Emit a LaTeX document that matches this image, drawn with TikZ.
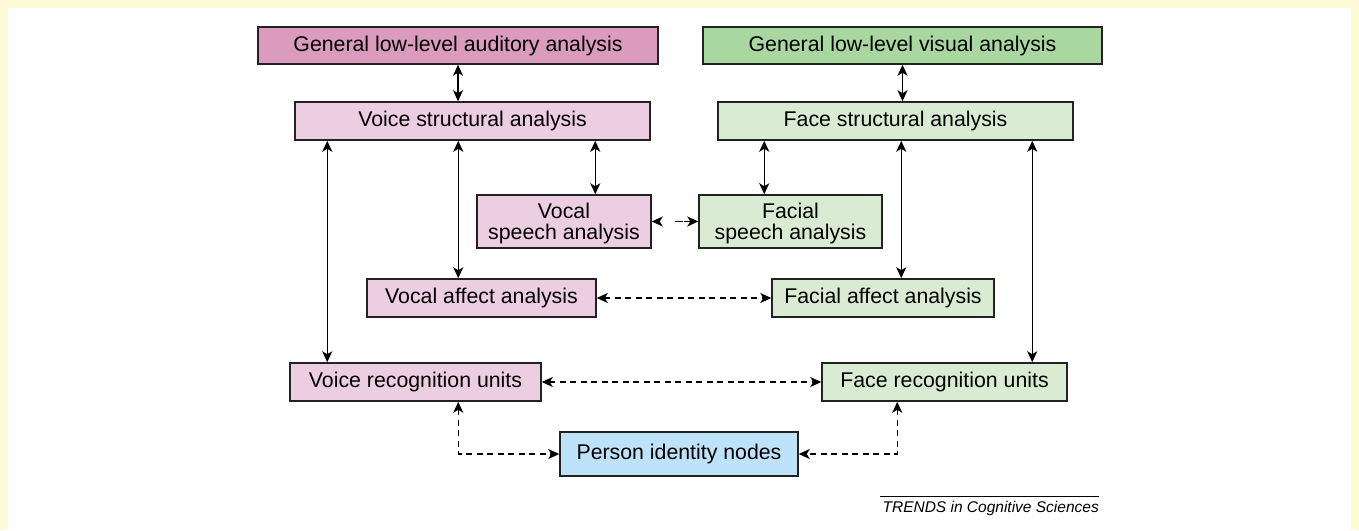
\documentclass[tikz,border=0pt]{standalone}
\usepackage{fontspec}
\setmainfont{Liberation Sans}
\usetikzlibrary{arrows.meta}
\definecolor{bgyellow}{HTML}{FFFAD6}
\definecolor{audark}{HTML}{DA9BBE}
\definecolor{aulight}{HTML}{EDCDE1}
\definecolor{vidark}{HTML}{A8D7A0}
\definecolor{vilight}{HTML}{D9ECD3}
\definecolor{pinblue}{HTML}{BEE2F7}
\definecolor{edge}{HTML}{222222}
\tikzset{
  box/.style={draw=edge, line width=1.5pt, inner sep=0pt, align=center,
    font=\fontsize{21.3}{20.5}\selectfont},
  arr/.style={line width=1.5pt, {Stealth[length=11pt,width=10pt,inset=3pt]}-{Stealth[length=11pt,width=10pt,inset=3pt]}},
  darr/.style={arr, dash pattern=on 6pt off 4.5pt},
}
\begin{document}
\begin{tikzpicture}[x=1pt,y=-1pt]
\useasboundingbox (0,0) rectangle (1359,530);
\fill[bgyellow] (0,0) rectangle (1359,530);
\fill[white] (8,8) rectangle (1351,530);

\node[box, fill=audark, minimum width=400pt, minimum height=37pt] (gla) at (458,45.5) {General low-level auditory analysis};
\node[box, fill=vidark, minimum width=399pt, minimum height=37pt] (glv) at (902.5,45.5) {General low-level visual analysis};
\node[box, fill=aulight, minimum width=355pt, minimum height=38pt] (vsa) at (472.5,121) {Voice structural analysis};
\node[box, fill=vilight, minimum width=355pt, minimum height=38pt] (fsa) at (895.5,121) {Face structural analysis};
\node[box, fill=aulight, minimum width=174pt, minimum height=53pt, text depth=0pt] (vsp) at (564,221.5) {Vocal\\speech analysis};
\node[box, fill=vilight, minimum width=183pt, minimum height=53pt, text depth=0pt] (fsp) at (790.5,221.5) {Facial\\speech analysis};
\node[box, fill=aulight, minimum width=229pt, minimum height=38pt] (vaa) at (481.5,298) {Vocal affect analysis};
\node[box, fill=vilight, minimum width=222pt, minimum height=38pt] (faa) at (883,298) {Facial affect analysis};
\node[box, fill=aulight, minimum width=251pt, minimum height=38pt] (vru) at (415.5,382) {Voice recognition units};
\node[box, fill=vilight, minimum width=245pt, minimum height=38pt] (fru) at (944.5,382) {Face recognition units};
\node[box, fill=pinblue, minimum width=238pt, minimum height=44pt] (pin) at (679,454) {Person identity nodes};

% solid vertical connectors
\draw[arr] (gla.south) -- (gla.south |- vsa.north);
\draw[arr] (glv.south) -- (glv.south |- fsa.north);
\coordinate (c1) at ([xshift=38pt]vru.north west);
\draw[arr] (c1 |- vsa.south) -- (c1);
\coordinate (c2) at ([xshift=92pt]vaa.north west);
\draw[arr] (c2 |- vsa.south) -- (c2);
\coordinate (c3) at ([xshift=119pt]vsp.north west);
\draw[arr] (c3 |- vsa.south) -- (c3);
\coordinate (c4) at ([xshift=66pt]fsp.north west);
\draw[arr] (c4 |- fsa.south) -- (c4);
\coordinate (c5) at ([xshift=130pt]faa.north west);
\draw[arr] (c5 |- fsa.south) -- (c5);
\coordinate (c6) at ([xshift=211pt]fru.north west);
\draw[arr] (c6 |- fsa.south) -- (c6);

% dashed horizontal connectors
\draw[arr, dash pattern=on 1pt off 15pt on 8pt] (vsp.east) -- (fsp.west);
\draw[darr] (vaa.east) -- (faa.west);
\draw[darr] (vru.east) -- (fru.west);

% dashed connectors to person identity nodes
\coordinate (c7) at ([xshift=169pt]vru.south west);
\draw[darr] (c7) -- (c7 |- pin.west) -- (pin.west);
\coordinate (c8) at ([xshift=76pt]fru.south west);
\draw[darr] (c8) -- (c8 |- pin.east) -- (pin.east);

% credit line
\coordinate (l1) at (880,496);
\coordinate (l2) at (1099,496);
\draw[line width=0.8pt] (l1) -- (l2);
\node[anchor=base east, inner sep=0pt, font=\fontsize{15.5}{18}\selectfont\itshape] (credit) at (1099,512) {TRENDS in Cognitive Sciences};
\end{tikzpicture}
\end{document}
